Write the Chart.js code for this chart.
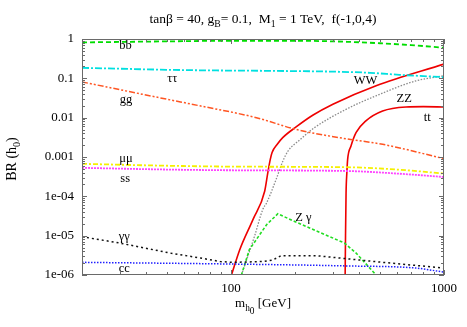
<!DOCTYPE html>
<html>
<head>
<meta charset="utf-8">
<script src="https://cdn.jsdelivr.net/npm/chart.js@4.4.1/dist/chart.umd.min.js"></script>
<style>
html, body { margin: 0; padding: 0; background: #fff; }
</style>
</head>
<body>
<canvas id="myChart" width="467" height="327"></canvas>
<script>
// Higgs mass [GeV] and branching ratios
var bbMass = [20, 50, 100, 200, 350, 500, 700, 1000];
var bbBR   = [0.82, 0.87, 0.9, 0.9, 0.85, 0.78, 0.7, 0.6];

var tautauMass = [20, 50, 72, 150, 300, 450, 617, 1000];
var tautauBR   = [0.185, 0.165, 0.16, 0.155, 0.148, 0.138, 0.123, 0.107];

var ggMass = [20, 50, 71.5, 131.6, 203, 347, 515, 1000];
var ggBR   = [0.081, 0.0295, 0.02, 0.01, 0.005, 0.0029, 0.0021, 0.00091];

var wwMass = [100.6, 110, 127, 144, 149, 153, 156, 165, 175, 203, 242, 301, 480, 1000];
var wwBR   = [1e-6, 4.4e-6, 2.6e-5, 1.35e-4, 4e-4, 8.7e-4, 1.3e-3, 2.1e-3, 3.1e-3, 5.9e-3, 0.0115, 0.022, 0.065, 0.23];

var zzMass = [112, 129, 141, 147, 163, 175, 185, 210, 247, 347, 480, 738, 1000];
var zzBR   = [1e-6, 9.6e-6, 4.6e-5, 6.8e-5, 2.7e-4, 7.7e-4, 1.4e-3, 2.7e-3, 5.6e-3, 0.0163, 0.036, 0.086, 0.116];

var ttMass = [343.6, 345, 347, 350, 353, 366, 387, 430, 515, 663, 800, 1000];
var ttBR   = [1e-6, 1e-5, 1.2e-4, 4e-4, 8.7e-4, 1.9e-3, 4.2e-3, 8.3e-3, 0.0148, 0.0187, 0.0191, 0.0187];

var mumuMass = [20, 50, 100, 350, 600, 1000];
var mumuBR   = [6.7e-4, 6.0e-4, 5.7e-4, 5.5e-4, 4.8e-4, 3.8e-4];

var ssMass = [20, 50, 100, 350, 600, 1000];
var ssBR   = [5.3e-4, 4.8e-4, 4.6e-4, 4.4e-4, 3.8e-4, 3.1e-4];

var zgMass = [112, 122, 147, 166, 199, 341, 387, 480];
var zgBR   = [1e-6, 4.4e-6, 1.9e-5, 3.6e-5, 2.3e-5, 6.5e-6, 3.6e-6, 1e-6];

var gamgamMass = [20, 30, 52, 72, 89, 102, 141, 157, 172, 251, 347, 515, 1000];
var gamgamBR   = [9.4e-6, 6.5e-6, 3.6e-6, 2.7e-6, 2.2e-6, 2.1e-6, 2.2e-6, 2.4e-6, 3.1e-6, 3.1e-6, 2.6e-6, 2.1e-6, 1.5e-6];

var ccMass = [20, 100, 347, 738, 1000];
var ccBR   = [2.1e-6, 1.9e-6, 1.7e-6, 1.5e-6, 1.18e-6];

var xTickLabels = ['100', '1000'];
var yTickLabels = ['1e-06', '1e-05', '1e-04', '0.001', '0.01', '0.1', '1'];

// curve names and where they sit (mass, BR)
var curveNames = ['bb', 'ττ', 'gg', 'WW', 'ZZ', 'tt', 'μμ', 'ss', 'Z γ', 'γγ', 'cc'];
var nameMass   = [32, 53, 32.2, 428, 650, 834, 32.2, 31.9, 219, 31.6, 31.6];
var nameBR     = [0.66, 0.095, 0.028, 0.085, 0.031, 0.0102, 9.2e-4, 2.84e-4, 2.9e-5, 9.4e-6, 1.44e-6];

var serif = '"Liberation Serif", "DejaVu Serif", serif';

function pts(xs, ys) {
    return xs.map(function (x, i) { return { x: x, y: ys[i] }; });
}

function line(label, xs, ys, color, dash, width, smooth) {
    return {
        label: label,
        data: pts(xs, ys),
        borderColor: color,
        borderDash: dash,
        borderWidth: width,
        pointRadius: 0,
        fill: false,
        tension: 0,
        cubicInterpolationMode: smooth ? 'monotone' : 'default'
    };
}

// text with subscripts: parts = [[text, level], ...]
function drawRich(ctx, parts, x, y, size) {
    var widths = parts.map(function (p) {
        ctx.font = (p[1] ? size * 0.72 : size) + 'px ' + serif;
        return ctx.measureText(p[0]).width;
    });
    var total = widths.reduce(function (a, b) { return a + b; }, 0);
    var cx = x - total / 2;
    ctx.textAlign = 'left';
    ctx.textBaseline = 'alphabetic';
    parts.forEach(function (p, i) {
        ctx.font = (p[1] ? size * 0.72 : size) + 'px ' + serif;
        ctx.fillText(p[0], cx, y + p[1] * size * 0.28);
        cx += widths[i];
    });
}

var framePlugin = {
    id: 'frame',
    afterDatasetsDraw: function (chart) {
        var ctx = chart.ctx, a = chart.chartArea;
        var xs = chart.scales.x, ys = chart.scales.y;
        ctx.save();
        ctx.strokeStyle = '#6a6a6a';
        ctx.lineWidth = 1;
        ctx.strokeRect(a.left + 0.5, a.top + 0.5, a.right - a.left - 1, a.bottom - a.top - 1);
        ctx.beginPath();
        for (var e = -6; e <= 0; e++) {
            for (var k = 1; k <= 9; k++) {
                var v = k * Math.pow(10, e);
                if (v > 1.0000001) break;
                var py = Math.round(ys.getPixelForValue(v)) + 0.5;
                var len = k === 1 ? 5 : 3;
                ctx.moveTo(a.left, py); ctx.lineTo(a.left + len, py);
                ctx.moveTo(a.right, py); ctx.lineTo(a.right - len, py);
            }
        }
        for (var e2 = 1; e2 <= 3; e2++) {
            for (var k2 = 1; k2 <= 9; k2++) {
                var v2 = k2 * Math.pow(10, e2);
                if (v2 < 20 || v2 > 1000) continue;
                var px = Math.round(xs.getPixelForValue(v2)) + 0.5;
                var len2 = k2 === 1 ? 5 : 3;
                ctx.moveTo(px, a.bottom); ctx.lineTo(px, a.bottom - len2);
                ctx.moveTo(px, a.top); ctx.lineTo(px, a.top + len2);
            }
        }
        ctx.stroke();

        // curve names
        ctx.fillStyle = '#000';
        ctx.font = '12.5px ' + serif;
        ctx.textAlign = 'center';
        ctx.textBaseline = 'middle';
        curveNames.forEach(function (n, i) {
            ctx.fillText(n, xs.getPixelForValue(nameMass[i]), ys.getPixelForValue(nameBR[i]));
        });

        // titles
        var mid = (a.left + a.right) / 2;
        drawRich(ctx, [['tanβ = 40, g', 0], ['B', 1], ['= 0.1,  M', 0], ['1', 1], [' = 1 TeV,  f(-1,0,4)', 0]], mid, 23, 13.5);
        drawRich(ctx, [['m', 0], ['h', 1], ['0', 2], [' [GeV]', 0]], mid, 307, 13);
        ctx.save();
        ctx.translate(16, (a.top + a.bottom) / 2 + 2);
        ctx.rotate(-Math.PI / 2);
        drawRich(ctx, [['BR (h', 0], ['0', 1], [')', 0]], 0, 0, 14);
        ctx.restore();
        ctx.restore();
    }
};

function isDecade(v) {
    var e = Math.log10(v);
    return Math.abs(e - Math.round(e)) < 1e-6;
}

var ctx = document.getElementById('myChart').getContext('2d');
new Chart(ctx, {
    type: 'line',
    data: {
        datasets: [
            line('bb', bbMass, bbBR, '#00dd00', [5, 3], 1.8, true),
            line('ττ', tautauMass, tautauBR, '#00e0e0', [7, 2, 2, 2], 1.8, true),
            line('gg', ggMass, ggBR, '#ff5522', [6, 2, 2, 2, 2, 2], 1.5, true),
            line('μμ', mumuMass, mumuBR, '#f5f000', [5, 2, 2, 2], 1.8, true),
            line('ss', ssMass, ssBR, '#ff44ff', [2, 1], 1.8, true),
            line('cc', ccMass, ccBR, '#2020ff', [1.5, 1.5], 1.5, true),
            line('γγ', gamgamMass, gamgamBR, '#111111', [2, 3], 1.5, false),
            line('Z γ', zgMass, zgBR, '#22dd22', [3, 2], 1.6, false),
            line('ZZ', zzMass, zzBR, '#8a8a8a', [1.5, 1.5], 1.3, true),
            line('WW', wwMass, wwBR, '#ee0000', [], 1.6, true),
            line('tt', ttMass, ttBR, '#ee0000', [], 1.6, true)
        ]
    },
    options: {
        responsive: false,
        animation: false,
        parsing: false,
        layout: { padding: { top: 39, right: 23, left: 0, bottom: 0 } },
        plugins: {
            legend: { display: false },
            tooltip: { enabled: false }
        },
        scales: {
            x: {
                type: 'logarithmic',
                min: 20,
                max: 1000,
                grid: { display: false, drawTicks: false, tickLength: 0 },
                border: { display: false },
                afterFit: function (s) { s.height = 52; },
                ticks: {
                    autoSkip: false,
                    maxRotation: 0,
                    padding: 6,
                    color: '#000',
                    font: { family: serif, size: 13 },
                    callback: function (v) {
                        if (!isDecade(v)) return '';
                        var lbl = String(Math.round(v));
                        return xTickLabels.indexOf(lbl) >= 0 ? lbl : '';
                    }
                }
            },
            y: {
                type: 'logarithmic',
                min: 1e-6,
                max: 1,
                grid: { display: false, drawTicks: false, tickLength: 0 },
                border: { display: false },
                afterFit: function (s) { s.width = 82; },
                ticks: {
                    autoSkip: false,
                    padding: 8,
                    color: '#000',
                    font: { family: serif, size: 13 },
                    callback: function (v) {
                        if (!isDecade(v)) return '';
                        return yTickLabels[Math.round(Math.log10(v)) + 6];
                    }
                }
            }
        }
    },
    plugins: [framePlugin]
});
</script>
</body>
</html>
